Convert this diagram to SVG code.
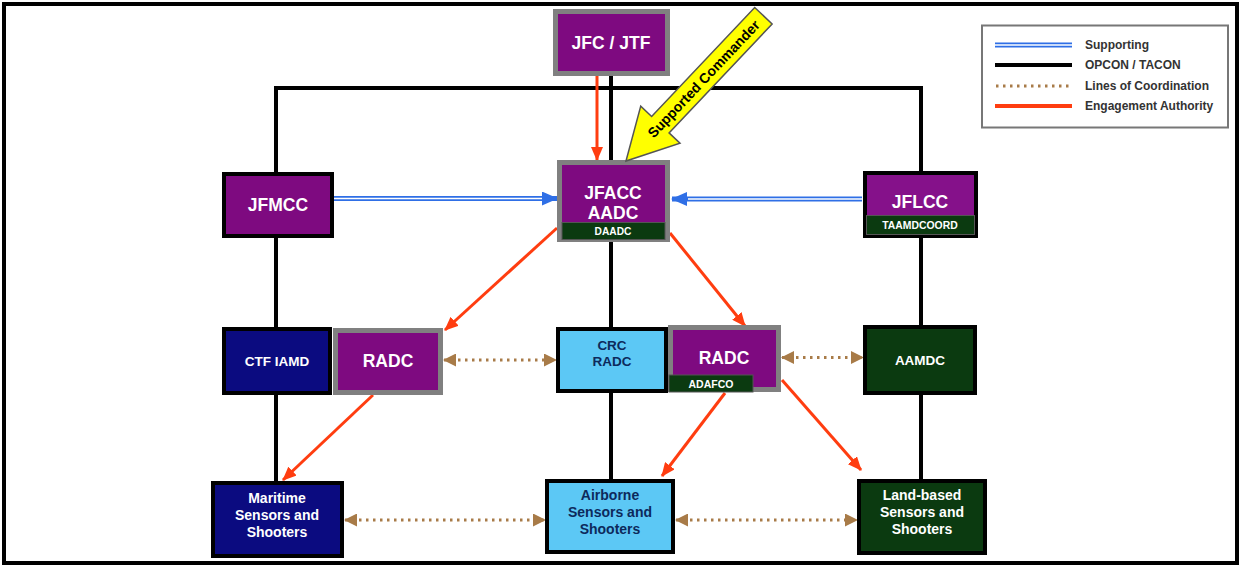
<svg xmlns="http://www.w3.org/2000/svg" width="1241" height="567" viewBox="0 0 1241 567">
<style>
text{font-family:"Liberation Sans",Arial,sans-serif;font-weight:bold;text-anchor:middle}
.w{fill:#fff}
.n{fill:#0d2a5c}
.blk{stroke:#000;stroke-width:4;fill:none}
.red{stroke:#ff3d10;stroke-width:3;fill:none;marker-end:url(#ar)}
.blu{stroke:#2f6fe6;stroke-width:5;fill:none}
.bluw{stroke:#fff;stroke-width:1.4;fill:none}
.dot{stroke:#a87b48;stroke-width:3;stroke-dasharray:2.5 4.5;fill:none}
.pg{fill:#7e0a80;stroke:#808080;stroke-width:5}
.pb{fill:#7e0a80;stroke:#000;stroke-width:4}
.gb{fill:#0b3a10;stroke:#000;stroke-width:4}
.nb{fill:#0b0b80;stroke:#000;stroke-width:4}
.lb{fill:#5cc8f5;stroke:#000;stroke-width:4}
.strip{fill:#0b3a10;stroke:#555;stroke-width:1}
.lg{fill:#333;text-anchor:start;font-size:12px}
</style>
<defs>
<marker id="ar" markerUnits="userSpaceOnUse" markerWidth="14" markerHeight="12" refX="13" refY="6" orient="auto"><path d="M0,0 L14,6 L0,12 z" fill="#ff3d10"/></marker>
<marker id="ab" markerUnits="userSpaceOnUse" markerWidth="16" markerHeight="14" refX="15" refY="7" orient="auto"><path d="M0,0 L16,7 L0,14 z" fill="#2f6fe6"/></marker>
<marker id="ad" markerUnits="userSpaceOnUse" markerWidth="13" markerHeight="13" refX="12" refY="6.5" orient="auto-start-reverse"><path d="M0,0 L13,6.5 L0,13 z" fill="#a87b48"/></marker>
</defs>
<rect x="0" y="0" width="1241" height="567" fill="#fff"/>

<g id="connectors">
<path class="blk" d="M276,172 V88 H921 V171"/>
<path class="blk" d="M611,76 V160 M611,242 V327 M611,393 V479"/>
<path class="blk" d="M276,238 V327 M276,395 V481"/>
<path class="blk" d="M921,238 V325 M921,395 V479"/>
<path class="blu" d="M334,198.5 H557" marker-end="url(#ab)"/>
<path class="bluw" d="M334,198.5 H542"/>
<path class="blu" d="M862,199 H672" marker-end="url(#ab)"/>
<path class="bluw" d="M862,199 H688"/>
<path class="red" d="M597,76 L597,160"/>
<path class="red" d="M557,228 L445,330"/>
<path class="red" d="M670,233 L745,326"/>
<path class="red" d="M373,395 L283,480"/>
<path class="red" d="M725,393 L662,476"/>
<path class="red" d="M782,380 L861,470"/>
<path class="dot" d="M444,360 H556" marker-start="url(#ad)" marker-end="url(#ad)"/>
<path class="dot" d="M782,357.5 H863" marker-start="url(#ad)" marker-end="url(#ad)"/>
<path class="dot" d="M345,520 H545" marker-start="url(#ad)" marker-end="url(#ad)"/>
<path class="dot" d="M676,520 H857" marker-start="url(#ad)" marker-end="url(#ad)"/>
</g>

<g id="jfc"><rect class="pg" x="555.5" y="11.5" width="112" height="62"/><text class="w" x="611" y="49" font-size="17.5">JFC / JTF</text></g>
<g id="jfacc"><rect class="pg" x="559.5" y="162.5" width="108" height="77"/><text class="w" x="613" y="199" font-size="17.5">JFACC</text><text class="w" x="613" y="219" font-size="17.5">AADC</text><rect class="strip" x="562" y="222.5" width="103" height="17"/><text class="w" x="613" y="235" font-size="10.2">DAADC</text></g>
<g id="jfmcc"><rect class="pb" x="224" y="174" width="108" height="62"/><text class="w" x="278" y="211" font-size="17.5">JFMCC</text></g>
<g id="jflcc"><rect class="pb" x="865" y="173" width="111" height="63" style="fill:#85118a"/><text class="w" x="920" y="208" font-size="17.5">JFLCC</text><rect class="strip" x="866.5" y="215.5" width="108" height="19"/><text class="w" x="920" y="229" font-size="10.4">TAAMDCOORD</text></g>
<g id="ctfiamd"><rect class="nb" x="224" y="329" width="106" height="64"/><text class="w" x="277" y="366" font-size="13.5">CTF IAMD</text></g>
<g id="radc-left"><rect class="pg" x="335.5" y="330.5" width="105" height="62"/><text class="w" x="388" y="367" font-size="17.5">RADC</text></g>
<g id="crc"><rect class="lb" x="558" y="329" width="108" height="62"/><text class="n" x="612" y="350" font-size="13.5">CRC</text><text class="n" x="612" y="366" font-size="13.5">RADC</text></g>
<g id="radc-right"><rect class="pg" x="670.5" y="327.5" width="108" height="62"/><text class="w" x="724" y="364" font-size="17.5">RADC</text><rect class="strip" x="669" y="375" width="84" height="17"/><text class="w" x="711" y="387.5" font-size="10.5">ADAFCO</text></g>
<g id="aamdc"><rect class="gb" x="865" y="327" width="110" height="66"/><text class="w" x="920" y="365" font-size="13.5">AAMDC</text></g>
<g id="maritime"><rect class="nb" x="213" y="483" width="129" height="73"/><text class="w" x="277" y="503" font-size="14">Maritime</text><text class="w" x="277" y="520" font-size="14">Sensors and</text><text class="w" x="277" y="537" font-size="14">Shooters</text></g>
<g id="airborne"><rect class="lb" x="547" y="481" width="126" height="71"/><text class="n" x="610" y="500" font-size="14">Airborne</text><text class="n" x="610" y="517" font-size="14">Sensors and</text><text class="n" x="610" y="534" font-size="14">Shooters</text></g>
<g id="landbased"><rect class="gb" x="859" y="481" width="126" height="72"/><text class="w" x="922" y="500" font-size="14">Land-based</text><text class="w" x="922" y="517" font-size="14">Sensors and</text><text class="w" x="922" y="534" font-size="14">Shooters</text></g>

<g id="supported-commander" transform="translate(626,161) rotate(-46.6)">
<path d="M0,0 L50,-27 L50,-12 L200,-12 L200,12 L50,12 L50,27 Z" fill="#ffff00" stroke="#555" stroke-width="1.5"/>
<text x="113" y="5" font-size="14" fill="#000">Supported Commander</text>
</g>

<g id="legend">
<rect x="982" y="25.5" width="246" height="102" fill="#fff" stroke="#777" stroke-width="2"/>
<path class="blu" d="M995,45 H1072"/><path class="bluw" d="M995,45 H1072"/>
<path class="blk" d="M995,65 H1072"/>
<path class="dot" d="M996,86 H1072"/>
<path stroke="#ff3d10" stroke-width="4" d="M995,106 H1072"/>
<text class="lg" x="1085" y="49">Supporting</text>
<text class="lg" x="1085" y="68.5">OPCON / TACON</text>
<text class="lg" x="1085" y="89.5">Lines of Coordination</text>
<text class="lg" x="1085" y="110">Engagement Authority</text>
</g>

<rect x="4" y="4" width="1233" height="559" fill="none" stroke="#000" stroke-width="4"/>
</svg>
